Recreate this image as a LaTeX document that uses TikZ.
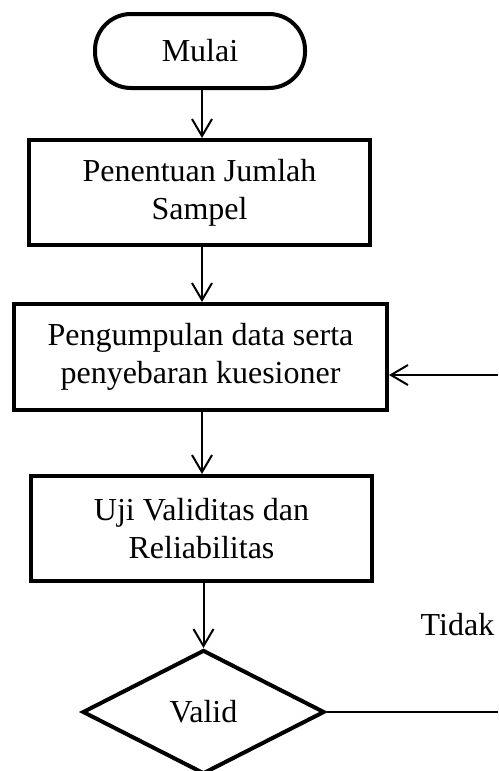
\documentclass[tikz,border=0pt]{standalone}
\usepackage{fontspec}
\setmainfont{Liberation Serif}
\usetikzlibrary{shapes.geometric,arrows.meta}
\tikzset{
  boxstyle/.style={draw, line width=4pt, rectangle, align=center, inner sep=0pt,
    font=\fontsize{32}{38}\selectfont},
  termstyle/.style={boxstyle, rounded corners=36pt},
  decstyle/.style={draw, line width=4pt, diamond, aspect=1.96, inner sep=0pt,
    minimum width=242pt, minimum height=124pt, font=\fontsize{32}{38}\selectfont},
  flow/.style={line width=2pt, -{Straight Barb[length=17pt,width=20pt,line width=2pt]}},
  plain/.style={line width=2pt}
}
\begin{document}
\begin{tikzpicture}[x=1pt,y=-1pt]
\useasboundingbox (0,0) rectangle (498,771);
\node[termstyle, minimum width=210pt, minimum height=74pt] (mulai) at (200,51) {Mulai};
\node[boxstyle, minimum width=341pt, minimum height=105pt] (sampel) at (199.5,192.5) {Penentuan Jumlah\\Sampel};
\node[boxstyle, minimum width=373pt, minimum height=106pt] (kumpul) at (200.5,357) {Pengumpulan data serta\\penyebaran kuesioner};
\node[boxstyle, minimum width=341pt, minimum height=105pt] (uji) at (201.5,528.5) {Uji Validitas dan\\Reliabilitas};
\node[decstyle] (valid) at (203.5,712) {Valid};
\node[font=\fontsize{32}{38}\selectfont, anchor=base, inner sep=0pt] (tidak) at (457.5,635) {Tidak};
\coordinate (rb) at (498,712);
\coordinate (rt) at (498,375);
\draw[flow] (202,90) coordinate (a1) -- (a1 |- sampel.north);
\draw[flow] (sampel.south -| a1) -- (a1 |- kumpul.north);
\draw[flow] (kumpul.south -| a1) -- (a1 |- uji.north);
\draw[flow] (uji.south -| 203.5,0) -- (valid.north);
\draw[plain] (valid.east) -- (rb);
\draw[flow] (rt) -- (kumpul.east |- rt);
\end{tikzpicture}
\end{document}
